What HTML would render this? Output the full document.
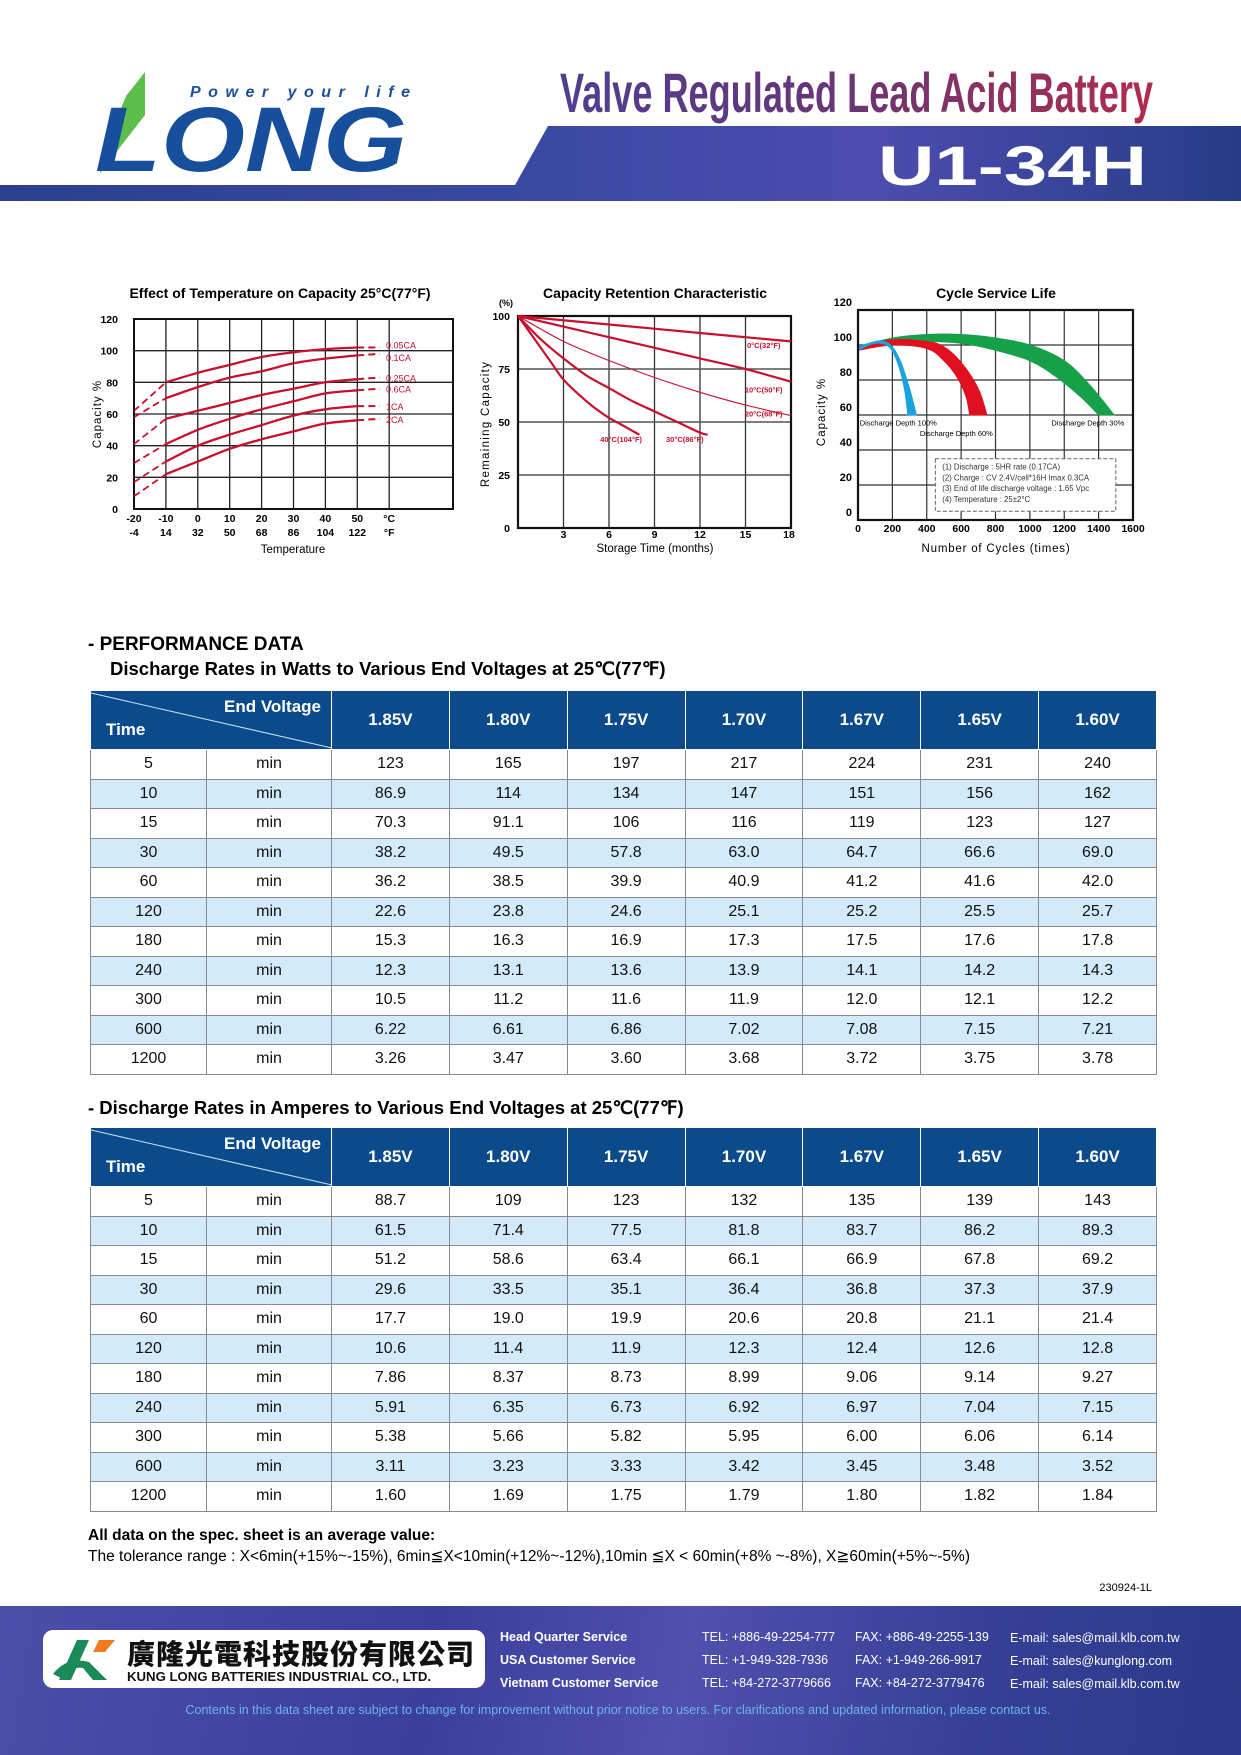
<!DOCTYPE html>
<html><head><meta charset="utf-8"><title>U1-34H</title>
<style>
*{margin:0;padding:0;box-sizing:border-box}
body{width:1241px;height:1755px;position:relative;background:#fff;font-family:"Liberation Sans",Arial,sans-serif;overflow:hidden}
.abs{position:absolute}
.sec{position:absolute;font-weight:bold;font-size:19px;color:#000;white-space:nowrap}
table{position:absolute;left:90px;border-collapse:collapse;table-layout:fixed;width:1067px}
td,th{border:1px solid #8a8a8a;text-align:center;font-size:16px;color:#111;height:29.5px;padding:0}
th{background:#0b4a8b;color:#fff;font-size:17px;font-weight:bold;height:59px;border-color:#fff}
tr.alt td{background:#d3eafa}
th.corner{position:relative;text-align:left}
.foot{position:absolute;left:0;top:1606px;width:1241px;height:149px;background:linear-gradient(100deg,#4a4fa8 0%,#3b3f9c 35%,#5050ad 55%,#343f95 80%,#2b3a8a 100%)}
.ft{position:absolute;color:#fff;font-size:12.5px;white-space:nowrap}
</style></head>
<body>
<svg class="abs" style="left:0;top:0" width="1241" height="205">
<defs>
<linearGradient id="bandg" x1="0" x2="1" y1="0" y2="0"><stop offset="0" stop-color="#2b3f8e"/><stop offset="0.45" stop-color="#3a4aa3"/><stop offset="0.7" stop-color="#4d4dae"/><stop offset="1" stop-color="#263c88"/></linearGradient>
<linearGradient id="titg" x1="0" x2="1"><stop offset="0" stop-color="#4e3f8f"/><stop offset="0.5" stop-color="#6a3574"/><stop offset="1" stop-color="#b02c4c"/></linearGradient>
</defs>
<polygon points="548,126 1241,126 1241,201 0,201 0,185 515,185" fill="url(#bandg)"/>
<polygon points="126,96 145,72 145,115 100,173 100,160" fill="#5bbf4a"/>
<text x="190" y="97" font-size="16" font-style="italic" font-weight="bold" fill="#1b4f9b" textLength="220" lengthAdjust="spacing">Power your life</text>
<text x="95" y="171" font-size="92" font-style="italic" font-weight="bold" fill="#174f9c" textLength="312" lengthAdjust="spacingAndGlyphs">LONG</text>
<text x="560" y="112" font-size="56" font-weight="bold" fill="url(#titg)" textLength="593" lengthAdjust="spacingAndGlyphs">Valve Regulated Lead Acid Battery</text>
<text x="878" y="185" font-size="56" font-weight="bold" fill="#fff" textLength="269" lengthAdjust="spacingAndGlyphs">U1-34H</text>
</svg>

<svg id="charts" class="abs" style="left:0;top:270px" width="1241" height="300" viewBox="0 270 1241 300" font-family="Liberation Sans, Arial, sans-serif"></svg>

<script>
const tempC = [-20,-10,0,10,20,30,40,50,57];
const c005 = [62,80,86,91,96,99,101,102,102];
const c01 = [58,70,77,83,87,92,95,97,98];
const c025 = [41,57,62,67,72,76,80,82,83];
const c06 = [29,41,50,57,63,68,73,75,76];
const c1 = [17,30,40,47,53,59,63,65,65];
const c2 = [8,22,30,38,44,49,54,56,57];
const c1Labels = ['0.05CA','0.1CA','0.25CA','0.6CA','1CA','2CA'];
const c1XTicksC = ['-20','-10','0','10','20','30','40','50','°C'];
const c1XTicksF = ['-4','14','32','50','68','86','104','122','°F'];
const c1YTicks = [0,20,40,60,80,100,120];
const r40m = [0,1,2,3,4,5,6,7,8];
const r40v = [100,90,80,70,63,57,52,48,44];
const r30m = [0,1.5,3,4.5,6,7.5,9,10.5,12,12.5];
const r30v = [100,89,80,72,66,60,55,50,45,44];
const r20m = [0,3,6,9,12,15,18];
const r20v = [100,88,79,71,64,58,53];
const r10m = [0,3,6,9,12,15,18];
const r10v = [100,95,90,85,80,75,69];
const r0m = [0,6,12,18];
const r0v = [100,96,92,88];
const r2Labels = ['0°C(32°F)','10°C(50°F)','20°C(68°F)','30°C(86°F)','40°C(104°F)'];
const r2XTicks = [3,6,9,12,15,18];
const r2YTicks = [0,25,50,75,100];
const gUpX=[0,200,400,600,800,1000,1200,1350,1490];
const gUpY=[99,104,106,106,104,100,91,77,60];
const gLoX=[0,200,400,600,800,1000,1150,1300,1400];
const gLoY=[97,101,102,101,97,91,82,70,60];
const rUpX=[0,200,400,500,600,700,750];
const rUpY=[99,103,102,99,90,75,60];
const rLoX=[0,200,400,500,580,630,650];
const rLoY=[97,100,98,91,81,70,60];
const bUpX=[0,100,150,200,250,300,340];
const bUpY=[99,102,102,99,90,75,60];
const bLoX=[0,100,180,230,270,290];
const bLoY=[97,101,99,90,75,60];
const c3XTicks=[0,200,400,600,800,1000,1200,1400,1600];
const c3YTicks=[0,20,40,60,80,100,120];

const NS='http://www.w3.org/2000/svg';
const svg=document.getElementById('charts');
function mk(tag,attrs,parent){const e=document.createElementNS(NS,tag);for(const k in attrs)e.setAttribute(k,attrs[k]);(parent||svg).appendChild(e);return e;}
function txt(x,y,s,size,anchor,extra){const t=mk('text',Object.assign({x:x,y:y,'font-size':size,'text-anchor':anchor||'middle'},extra||{}));t.textContent=s;return t;}
function smooth(pts,start){
 let d=start?'M'+pts[0][0].toFixed(1)+','+pts[0][1].toFixed(1):'L'+pts[0][0].toFixed(1)+','+pts[0][1].toFixed(1);
 for(let i=0;i<pts.length-1;i++){
  const p0=pts[i-1]||pts[i],p1=pts[i],p2=pts[i+1],p3=pts[i+2]||p2;
  const a=[p1[0]+(p2[0]-p0[0])/6,p1[1]+(p2[1]-p0[1])/6],b=[p2[0]-(p3[0]-p1[0])/6,p2[1]-(p3[1]-p1[1])/6];
  d+=' C'+a[0].toFixed(1)+','+a[1].toFixed(1)+' '+b[0].toFixed(1)+','+b[1].toFixed(1)+' '+p2[0].toFixed(1)+','+p2[1].toFixed(1);
 }
 return d;
}
function pathD(xs,ys,sx,sy){return smooth(xs.map((v,i)=>[sx(v),sy(ys[i])]),true);}

const x1=t=>134+(t+20)*3.19;
const y1=v=>509-v*(190/120);
let g=mk('g',{});


[-10,0,10,20,30,40,50,60].forEach(t=>{const l=mk('line',{x1:x1(t),x2:x1(t),y1:y1(120),y2:y1(0),stroke:'#222','stroke-width':1.3},g);});
[20,40,60,80,100].forEach(v=>{const l=mk('line',{x1:x1(-20),x2:453,y1:y1(v),y2:y1(v),stroke:'#222','stroke-width':1.3},g);});
let fr=mk('rect',{x:134,y:y1(120),width:319,height:y1(0)-y1(120),fill:'none',stroke:'#111','stroke-width':2},g);


[c005,c01,c025,c06,c1,c2].forEach((s,i)=>{
 const solid=mk('path',{d:pathD(tempC.slice(1,8),s.slice(1,8),x1,y1),fill:'none',stroke:'#c8102e','stroke-width':2.3},g);
 
 
 const d1=mk('path',{d:pathD(tempC.slice(0,2),s.slice(0,2),x1,y1),fill:'none',stroke:'#c8102e','stroke-width':1.8,'stroke-dasharray':'7,4'},g);
 
 
 const d2=mk('path',{d:pathD(tempC.slice(7),s.slice(7),x1,y1),fill:'none',stroke:'#c8102e','stroke-width':2,'stroke-dasharray':'7,4'},g);
 
 
 const off=i===0?-3:(i===1?3:0);
 const lb=txt(x1(59),y1(s[8])+4+off,c1Labels[i],9,'start',{fill:'#c8102e'});
 
 
});
c1YTicks.forEach(v=>{const t=txt(118,y1(v)+4,String(v),10.5,'end',{'font-weight':'bold'});});
c1XTicksC.forEach((s,i)=>{const t=txt(x1(-20+i*10),522,s,10.5,'middle',{'font-weight':'bold'});});
c1XTicksF.forEach((s,i)=>{const t=txt(x1(-20+i*10),536,s,10.5,'middle',{'font-weight':'bold'});});
let t1=txt(293,553,'Temperature',11.5);
let t2=txt(0,0,'Capacity %',11.5,'middle',{transform:'translate(101,414) rotate(-90)','letter-spacing':'1'});
let t3=txt(280,298,'Effect of Temperature on Capacity  25°C(77°F)',14,'middle',{'font-weight':'bold'});

const x2=m=>518+m*(273/18);
const y2=v=>528-v*2.12;
g=mk('g',{});


[3,6,9,12,15].forEach(m=>{const l=mk('line',{x1:x2(m),x2:x2(m),y1:y2(100),y2:y2(0),stroke:'#333','stroke-width':1.3},g);});
[25,50,75].forEach(v=>{const l=mk('line',{x1:x2(0),x2:x2(18),y1:y2(v),y2:y2(v),stroke:'#555','stroke-width':1.6},g);});
fr=mk('rect',{x:x2(0),y:y2(100),width:x2(18)-x2(0),height:y2(0)-y2(100),fill:'none',stroke:'#111','stroke-width':2.2},g);


[[r0m,r0v,2.2],[r10m,r10v,2.2],[r20m,r20v,1.1],[r30m,r30v,2.2],[r40m,r40v,2.2]].forEach((s,i)=>{
 const p=mk('path',{d:pathD(s[0],s[1],x2,y2),fill:'none',stroke:'#c8102e','stroke-width':s[2],'stroke-linejoin':'round'},g);
 
 
});
[[16.2,85],[16.2,64],[16.2,52.5],[11,40.5],[6.8,40.5]].forEach((pos,i)=>{
 const lb=txt(x2(pos[0]),y2(pos[1]),r2Labels[i],7.5,'middle',{fill:'#c8102e','font-weight':'bold'});
 
 
});
r2YTicks.forEach(v=>{const t=txt(510,y2(v)+4,String(v),10.5,'end',{'font-weight':'bold'});});
r2XTicks.forEach(m=>{const t=txt(x2(m)+(m===18?-2:0),538,String(m),10.5,'middle',{'font-weight':'bold'});});
t1=txt(655,552,'Storage Time (months)',11.5);
t2=txt(0,0,'Remaining Capacity',11.5,'middle',{transform:'translate(489,424) rotate(-90)','letter-spacing':'1.3'});
let t4=txt(506,306,'(%)',9,'middle',{'font-weight':'bold'});
t3=txt(655,298,'Capacity Retention Characteristic',14,'middle',{'font-weight':'bold'});

const x3=n=>858+n*(275/1600);
const y3=v=>520-v*1.75;
g=mk('g',{});


[200,400,600,800,1000,1200,1400].forEach(n=>{const l=mk('line',{x1:x3(n),x2:x3(n),y1:y3(120),y2:y3(0),stroke:'#333','stroke-width':1.2},g);});
[20,40,60,80,100].forEach(v=>{const l=mk('line',{x1:x3(0),x2:x3(1600),y1:y3(v),y2:y3(v),stroke:'#333','stroke-width':1.2},g);});
function band(ux,uy,lx,ly,col,name){
 const up=ux.map((v,i)=>[x3(v),y3(uy[i])]);
 const lo=lx.map((v,i)=>[x3(v),y3(ly[i])]).reverse();
 const d=smooth(up,true)+' '+smooth(lo,false)+'Z';
 const p=mk('path',{d:d,fill:col,stroke:col,'stroke-width':1},g);
 
 
}
band(gUpX,gUpY,gLoX,gLoY,'#16a04a','band-depth-30');
band(rUpX,rUpY,rLoX,rLoY,'#e01020','band-depth-50');
band(bUpX,bUpY,bLoX,bLoY,'#1aa3e0','band-depth-100');
fr=mk('rect',{x:x3(0),y:y3(120),width:x3(1600)-x3(0),height:y3(0)-y3(120),fill:'none',stroke:'#111','stroke-width':2.2},g);


let lb=txt(x3(10),y3(54),'Discharge Depth 100%',7.5,'start');
lb=txt(x3(360),y3(48),'Discharge Depth 60%',7.5,'start');
lb=txt(x3(1125),y3(54),'Discharge Depth 30%',7.5,'start');
const nb=mk('rect',{x:x3(450),y:y3(35),width:x3(1500)-x3(450),height:y3(5)-y3(35),fill:'#fff',stroke:'#666','stroke-width':1,'stroke-dasharray':'4,2'},g);


['(1) Discharge :  5HR rate (0.17CA)','(2) Charge :  CV 2.4V/cell*16H  Imax 0.3CA','(3) End of life discharge voltage :  1.65 Vpc','(4) Temperature :  25±2°C'].forEach((s,i)=>{const t=txt(x3(490),y3(30.5)+3+i*10.8,s,7.8,'start',{fill:'#333'});});
c3YTicks.forEach(v=>{const t=txt(852,y3(v)-4,String(v),11,'end',{'font-weight':'bold'});});
c3XTicks.forEach(n=>{const t=txt(x3(n),532,String(n),10.5,'middle',{'font-weight':'bold'});});
t1=txt(996,552,'Number of Cycles (times)',11.5,'middle',{'letter-spacing':'0.8'});
t2=txt(0,0,'Capacity %',11.5,'middle',{transform:'translate(825,412) rotate(-90)','letter-spacing':'1'});
t3=txt(996,298,'Cycle Service Life',14,'middle',{'font-weight':'bold'});
</script>

<div class="sec" style="left:88px;top:634px">- PERFORMANCE DATA</div>
<div class="sec" style="left:110px;top:658px;font-size:18.5px">Discharge Rates in Watts to Various End Voltages at 25℃(77℉)</div>
<table id="tw" style="top:690px"></table>
<div class="sec" style="left:88px;top:1097px;font-size:18.5px">- Discharge Rates in Amperes to Various End Voltages at 25℃(77℉)</div>
<table id="ta" style="top:1127px"></table>

<div class="abs" style="left:88px;top:1527px;font-size:15.5px;font-weight:bold">All data on the spec. sheet is an average value:</div>
<div class="abs" style="left:88px;top:1547px;font-size:15.5px;white-space:nowrap">The tolerance range : X&lt;6min(+15%~-15%), 6min≦X&lt;10min(+12%~-12%),10min ≦X &lt; 60min(+8% ~-8%), X≧60min(+5%~-5%)</div>
<div class="abs" style="left:1090px;top:1582px;font-size:11px;width:62px;text-align:right">230924-1L</div>

<script>
const times=['5','10','15','30','60','120','180','240','300','600','1200'];
const volts=['1.85V','1.80V','1.75V','1.70V','1.67V','1.65V','1.60V'];
const watts=[
['123','165','197','217','224','231','240'],
['86.9','114','134','147','151','156','162'],
['70.3','91.1','106','116','119','123','127'],
['38.2','49.5','57.8','63.0','64.7','66.6','69.0'],
['36.2','38.5','39.9','40.9','41.2','41.6','42.0'],
['22.6','23.8','24.6','25.1','25.2','25.5','25.7'],
['15.3','16.3','16.9','17.3','17.5','17.6','17.8'],
['12.3','13.1','13.6','13.9','14.1','14.2','14.3'],
['10.5','11.2','11.6','11.9','12.0','12.1','12.2'],
['6.22','6.61','6.86','7.02','7.08','7.15','7.21'],
['3.26','3.47','3.60','3.68','3.72','3.75','3.78']];
const amps=[
['88.7','109','123','132','135','139','143'],
['61.5','71.4','77.5','81.8','83.7','86.2','89.3'],
['51.2','58.6','63.4','66.1','66.9','67.8','69.2'],
['29.6','33.5','35.1','36.4','36.8','37.3','37.9'],
['17.7','19.0','19.9','20.6','20.8','21.1','21.4'],
['10.6','11.4','11.9','12.3','12.4','12.6','12.8'],
['7.86','8.37','8.73','8.99','9.06','9.14','9.27'],
['5.91','6.35','6.73','6.92','6.97','7.04','7.15'],
['5.38','5.66','5.82','5.95','6.00','6.06','6.14'],
['3.11','3.23','3.33','3.42','3.45','3.48','3.52'],
['1.60','1.69','1.75','1.79','1.80','1.82','1.84']];
function build(id,data){
 const t=document.getElementById(id);
 let h='<colgroup><col style="width:116px"><col style="width:125px">'+volts.map(()=>'<col>').join('')+'</colgroup>';
 h+='<tr><th class="corner" colspan="2"><svg style="position:absolute;left:0;top:0" width="241" height="59"><line x1="0" y1="2" x2="241" y2="57" stroke="#cfe0f0" stroke-width="1"/></svg><span style="position:absolute;right:10px;top:6px">End Voltage</span><span style="position:absolute;left:15px;bottom:9px">Time</span></th>';
 volts.forEach(v=>{h+='<th>'+v+'</th>';});
 h+='</tr>';
 times.forEach((tm,i)=>{
  h+='<tr class="'+(i%2?'alt':'')+'"><td>'+tm+'</td><td>min</td>';
  data[i].forEach(v=>{h+='<td>'+v+'</td>';});
  h+='</tr>';
 });
 t.innerHTML=h;
}
build('tw',watts);
build('ta',amps);
</script>

<div class="foot">
 <div class="abs" style="left:43px;top:24px;width:442px;height:58px;background:#fff;border-radius:10px">
  <svg class="abs" style="left:6px;top:6px" width="74" height="48">
   <path d="M28 4 L40 4 L22 44 L10 44 Z" fill="#1a8a5a"/>
   <path d="M4 38 Q18 20 40 26 L58 44 L44 44 L34 32 Q20 30 12 42 Z" fill="#1a8a5a"/>
   <path d="M50 4 L66 4 L56 16 L44 16 Z" fill="#f07a20"/>
  </svg>
  <div class="abs" style="left:84px;top:3px;font-family:'Liberation Sans','Noto Sans CJK TC',sans-serif;font-weight:900;font-size:28px;letter-spacing:1px;color:#111;white-space:nowrap">廣隆光電科技股份有限公司</div>
  <div class="abs" style="left:84px;top:39px;font-weight:bold;font-size:13.2px;color:#111;white-space:nowrap">KUNG LONG BATTERIES INDUSTRIAL CO., LTD.</div>
 </div>
 <div class="ft" style="left:500px;top:24px;font-weight:bold">Head Quarter Service</div>
 <div class="ft" style="left:500px;top:47px;font-weight:bold">USA Customer Service</div>
 <div class="ft" style="left:500px;top:70px;font-weight:bold">Vietnam Customer Service</div>
 <div class="ft" style="left:702px;top:24px">TEL: +886-49-2254-777</div>
 <div class="ft" style="left:702px;top:47px">TEL: +1-949-328-7936</div>
 <div class="ft" style="left:702px;top:70px">TEL: +84-272-3779666</div>
 <div class="ft" style="left:855px;top:24px">FAX: +886-49-2255-139</div>
 <div class="ft" style="left:855px;top:47px">FAX: +1-949-266-9917</div>
 <div class="ft" style="left:855px;top:70px">FAX: +84-272-3779476</div>
 <div class="ft" style="left:1010px;top:25px">E-mail: sales@mail.klb.com.tw</div>
 <div class="ft" style="left:1010px;top:48px">E-mail: sales@kunglong.com</div>
 <div class="ft" style="left:1010px;top:71px">E-mail: sales@mail.klb.com.tw</div>
 <div class="ft" style="left:0;width:1236px;text-align:center;top:97px;color:#6cb4ea;font-size:12.5px">Contents in this data sheet are subject to change for improvement without prior notice to users. For clarifications and updated information, please contact us.</div>
</div>
</body></html>
